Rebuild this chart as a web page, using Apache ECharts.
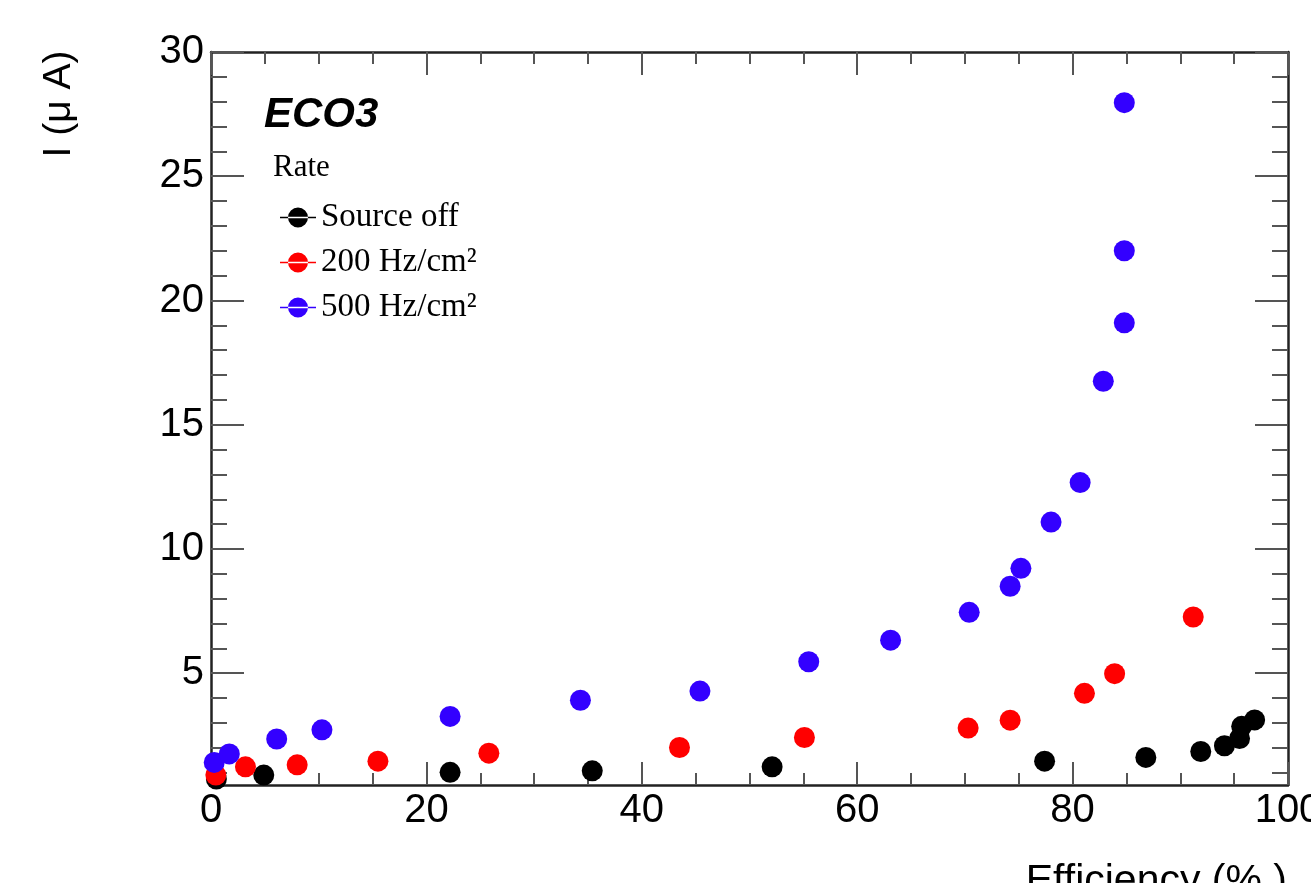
<!DOCTYPE html>
<html>
<head>
<meta charset="utf-8">
<script src="https://cdn.jsdelivr.net/npm/echarts@6/dist/echarts.min.js"></script>
<style>
  html, body { margin: 0; padding: 0; background: #fff; }
  #chart { width: 1311px; height: 883px; }
</style>
</head>
<body>
<div id="chart"></div>
<script>
// ---- data (efficiency %, current µA) ----
const seriesNames = ['Source off', '200 Hz/cm²', '500 Hz/cm²'];
const sourceOffEff = [0.5, 4.9, 22.2, 35.4, 52.1, 77.4, 86.8, 91.9, 94.1, 95.5, 95.7, 96.9];
const sourceOffCur = [0.74, 0.90, 1.01, 1.07, 1.23, 1.46, 1.61, 1.85, 2.08, 2.37, 2.86, 3.12];
const rate200Eff = [0.45, 3.2, 8.0, 15.5, 25.8, 43.5, 55.1, 70.3, 74.2, 81.1, 83.9, 91.2];
const rate200Cur = [0.90, 1.23, 1.31, 1.46, 1.78, 2.01, 2.41, 2.79, 3.11, 4.19, 4.98, 7.26];
const rate500Eff = [0.3, 1.7, 6.1, 10.3, 22.2, 34.3, 45.4, 55.5, 63.1, 70.4, 74.2, 75.2, 78.0, 80.7, 82.85, 84.8, 84.8, 84.8];
const rate500Cur = [1.41, 1.75, 2.35, 2.72, 3.26, 3.91, 4.28, 5.46, 6.33, 7.45, 8.50, 9.22, 11.08, 12.67, 16.75, 19.10, 22.00, 27.96];
const yMajorTicks = [5, 10, 15, 20, 25, 30];
const yMinorTicks = [1, 2, 3, 4, 6, 7, 8, 9, 11, 12, 13, 14, 16, 17, 18, 19, 21, 22, 23, 24, 26, 27, 28, 29];
const xTitle = 'Efficiency (% )';
const yTitle = 'I (μ A)';
const labelText = 'ECO3';
const legendTitle = 'Rate';

const colors = ['#000000', '#ff0000', '#3300ff'];
const pair = (xs, ys) => xs.map((x, i) => [x, ys[i]]);

const SANS = '"Liberation Sans", Arial, Helvetica, sans-serif';
const SERIF = '"Liberation Serif", "Times New Roman", serif';
const AXIS_COL = '#222';
const TICK_COL = '#555';

function xAxisDef(pos, showLabel) {
  return {
    type: 'value', position: pos, min: 0, max: 100, interval: 20,
    axisLine: { show: true, onZero: false, lineStyle: { color: AXIS_COL, width: 2.5 } },
    axisTick: { show: true, inside: true, length: 23, lineStyle: { color: TICK_COL, width: 2 } },
    minorTick: { show: true, splitNumber: 4, length: 12, lineStyle: { color: TICK_COL, width: 2 } },
    splitLine: { show: false }, minorSplitLine: { show: false },
    axisLabel: { show: showLabel, fontSize: 40, fontFamily: SANS, color: '#000', margin: 6 }
  };
}
function yAxisDef(pos, major, showLine) {
  return {
    type: 'value', position: pos, min: 0.5, max: 30,
    axisLine: { show: showLine, onZero: false, lineStyle: { color: AXIS_COL, width: 2.5 } },
    axisTick: { show: true, inside: true, length: major ? 33 : 16,
      customValues: major ? yMajorTicks : yMinorTicks,
      lineStyle: { color: TICK_COL, width: 2 } },
    splitLine: { show: false },
    axisLabel: { show: major && pos === 'left', customValues: yMajorTicks,
      fontSize: 40, fontFamily: SANS, color: '#000', margin: 7 }
  };
}

const legendIcon = 'path://M0,9.3h36v1.4h-36z M8,10a10,10 0 1,0 20,0a10,10 0 1,0 -20,0z';

const chart = echarts.init(document.getElementById('chart'), null, { renderer: 'canvas' });
chart.setOption({
  animation: false,
  backgroundColor: '#fff',
  grid: { left: 211, top: 52, right: 23, bottom: 98, containLabel: false, outerBoundsMode: 'none' },
  xAxis: [xAxisDef('bottom', true), xAxisDef('top', false)],
  yAxis: [yAxisDef('left', true, true), yAxisDef('left', false, false),
          yAxisDef('right', true, true), yAxisDef('right', false, false)],
  legend: {
    orient: 'vertical', left: 275, top: 196,
    itemWidth: 36, itemHeight: 20, itemGap: 12,
    icon: legendIcon,
    textStyle: { fontFamily: SERIF, fontSize: 33, color: '#000', padding: [0, 0, 0, 0] },
    data: seriesNames
  },
  graphic: [
    { type: 'text', x: 59, y: 104, rotation: Math.PI / 2,
      style: { text: yTitle, fontFamily: SANS, fontSize: 39, fill: '#000', align: 'center', verticalAlign: 'middle' } },
    { type: 'text', x: 1287, y: 861,
      style: { text: xTitle, fontFamily: SANS, fontSize: 41, fill: '#000', align: 'right', verticalAlign: 'top' } },
    { type: 'text', x: 264, y: 115,
      style: { text: labelText, fontFamily: SANS, fontSize: 42, fontWeight: 'bold', fontStyle: 'italic', fill: '#000', align: 'left', verticalAlign: 'middle' } },
    { type: 'text', x: 273, y: 168,
      style: { text: legendTitle, fontFamily: SERIF, fontSize: 31, fill: '#000', align: 'left', verticalAlign: 'middle' } }
  ],
  series: [
    { name: seriesNames[0], type: 'scatter', data: pair(sourceOffEff, sourceOffCur), symbolSize: 21, itemStyle: { color: colors[0], opacity: 1 } },
    { name: seriesNames[1], type: 'scatter', data: pair(rate200Eff, rate200Cur), symbolSize: 21, itemStyle: { color: colors[1], opacity: 1 } },
    { name: seriesNames[2], type: 'scatter', data: pair(rate500Eff, rate500Cur), symbolSize: 21, itemStyle: { color: colors[2], opacity: 1 } }
  ]
});
</script>
</body>
</html>
